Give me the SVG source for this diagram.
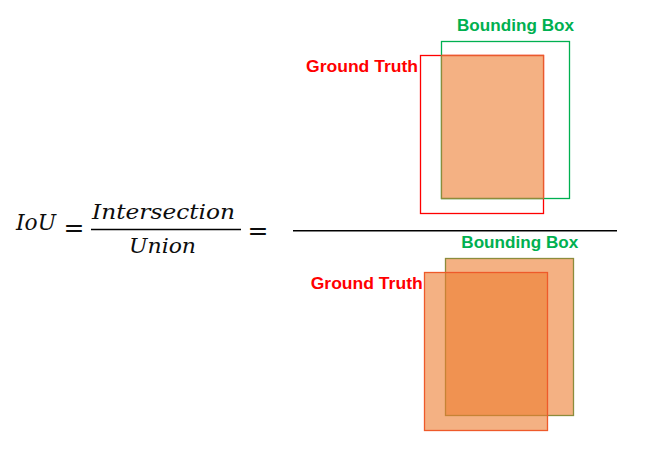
<svg xmlns="http://www.w3.org/2000/svg" width="652" height="455" viewBox="0 0 652 455">
<style>
.lbl{font-family:"Liberation Sans",Arial,sans-serif;font-weight:bold;font-size:17px}
.gt{fill:#FF0000}
.bb{fill:#00B050}
.math{font-family:"DejaVu Serif","Liberation Serif",serif;font-style:italic;fill:#0D0D0D}
.eq{font-family:"DejaVu Serif","Liberation Serif",serif;fill:#0D0D0D;font-size:25px}
.rule{stroke:#000;stroke-width:1.4}
</style>
<rect width="652" height="455" fill="#fff"/>
<g id="equation">
<text class="math" x="16" y="229.5" font-size="23" textLength="40" lengthAdjust="spacingAndGlyphs">IoU</text>
<text class="eq" x="74" y="236" text-anchor="middle">=</text>
<text class="math" x="92" y="218.5" font-size="20" textLength="143" lengthAdjust="spacingAndGlyphs">Intersection</text>
<text class="math" x="129" y="253.3" font-size="20" textLength="67" lengthAdjust="spacingAndGlyphs">Union</text>
<text class="eq" x="258" y="239" text-anchor="middle">=</text>
</g>
<g id="rules">
<line class="rule" x1="91" y1="229.5" x2="241" y2="229.5"/>
<line class="rule" x1="293" y1="230.7" x2="617" y2="230.7"/>
</g>
<g id="intersection">
<rect x="420.5" y="55.5" width="123" height="158" fill="none" stroke="#FF0000" stroke-width="1.3"/>
<rect x="441.5" y="41.5" width="128" height="157" fill="none" stroke="#00B050" stroke-width="1.3"/>
<rect x="441.5" y="55.5" width="102" height="143" fill="#F4B183"/>
<path d="M441.5 55.5V198.5H543.5" fill="none" stroke="#8C8C3C" stroke-width="1.3"/>
<path d="M441.5 55.5H543.5V198.5" fill="none" stroke="#E95A2C" stroke-width="1.3"/>
<text class="lbl bb" x="457" y="30.7" textLength="117" lengthAdjust="spacingAndGlyphs">Bounding Box</text>
<text class="lbl gt" x="306" y="72.3" textLength="112" lengthAdjust="spacingAndGlyphs">Ground Truth</text>
</g>
<g id="union">
<rect x="445.5" y="258.5" width="128" height="157" fill="#ED7D31" fill-opacity="0.6" stroke="#8C8C3C" stroke-width="1.3"/>
<rect x="424.5" y="272.5" width="123" height="158" fill="#ED7D31" fill-opacity="0.6" stroke="#EE5A2A" stroke-width="1.3"/>
<text class="lbl bb" x="461.3" y="248.3" textLength="117" lengthAdjust="spacingAndGlyphs">Bounding Box</text>
<text class="lbl gt" x="310.7" y="289" textLength="112" lengthAdjust="spacingAndGlyphs">Ground Truth</text>
</g>
</svg>
